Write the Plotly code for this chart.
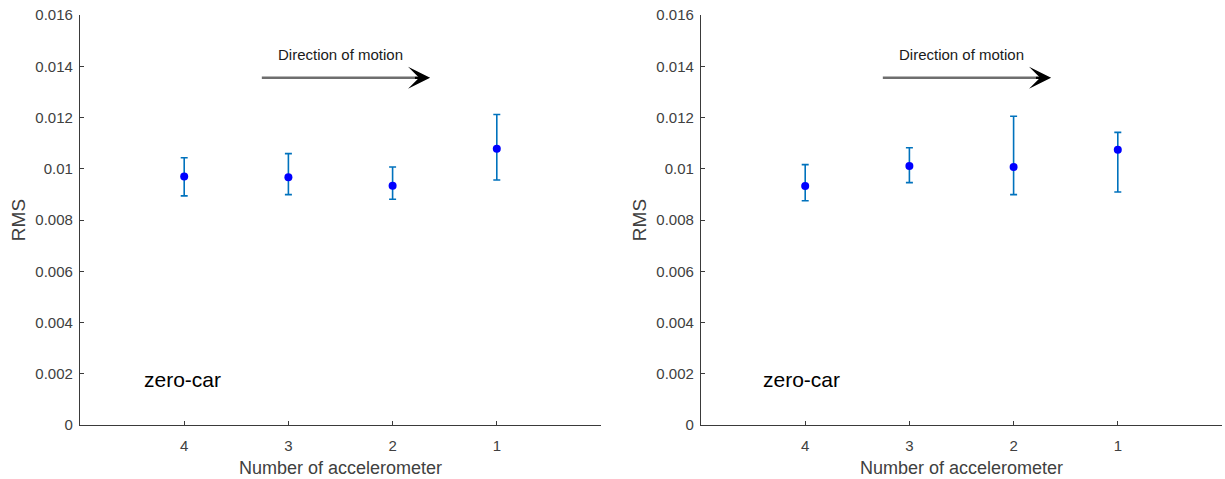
import plotly.graph_objects as go

# Accelerometer numbers, shown from 4 down to 1 (direction of motion)
accelerometers = ["4", "3", "2", "1"]

# Left panel: RMS and the ends of each error bar
left_rms = [0.00970, 0.00967, 0.00934, 0.01078]
left_upper = [0.01043, 0.01059, 0.01007, 0.01212]
left_lower = [0.00894, 0.00899, 0.00881, 0.00956]

# Right panel: RMS and the ends of each error bar
right_rms = [0.00933, 0.01011, 0.01007, 0.01074]
right_upper = [0.01016, 0.01082, 0.01205, 0.01142]
right_lower = [0.00875, 0.00946, 0.00899, 0.00909]

y_tick_values = [0, 0.002, 0.004, 0.006, 0.008, 0.01, 0.012, 0.014, 0.016]
y_tick_labels = ["0", "0.002", "0.004", "0.006", "0.008", "0.01", "0.012", "0.014", "0.016"]

panel_label = "zero-car"
arrow_label = "Direction of motion"

FONT = "Liberation Sans, Arial, sans-serif"
AXIS_COLOR = "#3a3a3a"
TEXT_COLOR = "#404040"
BAR_COLOR = "#0072BD"
DOT_COLOR = "#0000FF"

fig = go.Figure()

panels = [
    ("x", "y", left_rms, left_upper, left_lower),
    ("x2", "y2", right_rms, right_upper, right_lower),
]

for xa, ya, rms, upper, lower in panels:
    plus = [u - m for u, m in zip(upper, rms)]
    minus = [m - l for m, l in zip(rms, lower)]
    fig.add_trace(go.Scatter(
        x=accelerometers, y=rms, xaxis=xa, yaxis=ya,
        mode="markers",
        marker=dict(color=DOT_COLOR, size=8),
        error_y=dict(type="data", symmetric=False, array=plus, arrayminus=minus,
                     color=BAR_COLOR, thickness=1.6, width=3.5),
        showlegend=False,
    ))

axis_common = dict(
    showline=True, linecolor=AXIS_COLOR, linewidth=1.2,
    ticks="inside", ticklen=4, tickcolor=AXIS_COLOR, tickwidth=1,
    showgrid=False, zeroline=False,
    tickfont=dict(family=FONT, size=15, color=TEXT_COLOR),
    mirror=False,
)

x_common = dict(axis_common, type="category", categoryorder="array",
                categoryarray=accelerometers, range=[-1, 4],
                ticklabelstandoff=7,
                title=dict(text="Number of accelerometer",
                           font=dict(family=FONT, size=18, color=TEXT_COLOR),
                           standoff=8))
y_common = dict(axis_common, range=[0, 0.016], tickvals=y_tick_values,
                ticktext=y_tick_labels, ticklabelstandoff=3,
                title=dict(text="RMS", font=dict(family=FONT, size=19, color=TEXT_COLOR),
                           standoff=4))

fig.update_layout(
    width=1225, height=479,
    margin=dict(l=0, r=0, t=15, b=54),
    paper_bgcolor="white", plot_bgcolor="white",
    xaxis=dict(x_common, domain=[80 / 1225, 601 / 1225], anchor="y"),
    yaxis=dict(y_common, domain=[0, 1], anchor="x"),
    xaxis2=dict(x_common, domain=[701 / 1225, 1222 / 1225], anchor="y2"),
    yaxis2=dict(y_common, domain=[0, 1], anchor="x2"),
)

# Arrow and labels, placed in each panel's data coordinates
arrow_tail, arrow_tip, arrow_y = 0.745, 2.36, 0.01355
for xref, yref, label_x in [("x", "y", -0.403), ("x2", "y2", -0.424)]:
    fig.add_shape(type="line", xref=xref, yref=yref,
                  x0=arrow_tail, x1=arrow_tip - 0.1, y0=arrow_y, y1=arrow_y,
                  line=dict(color="#6e6e6e", width=2.5))
    fig.add_annotation(xref=xref, yref=yref, x=arrow_tip, y=arrow_y,
                       axref=xref, ayref=yref, ax=arrow_tip - 0.16, ay=arrow_y,
                       showarrow=True, arrowhead=3, arrowsize=1.6, arrowwidth=2.3,
                       arrowcolor="#000000", text="")
    fig.add_annotation(xref=xref, yref=yref, x=1.50, y=0.01444,
                       text=arrow_label, showarrow=False,
                       font=dict(family=FONT, size=15, color="#1a1a1a"))
    fig.add_annotation(xref=xref, yref=yref, x=label_x, y=0.00176,
                       xanchor="left", text=panel_label, showarrow=False,
                       font=dict(family=FONT, size=21, color="#000000"))

fig.write_html("out.html")
